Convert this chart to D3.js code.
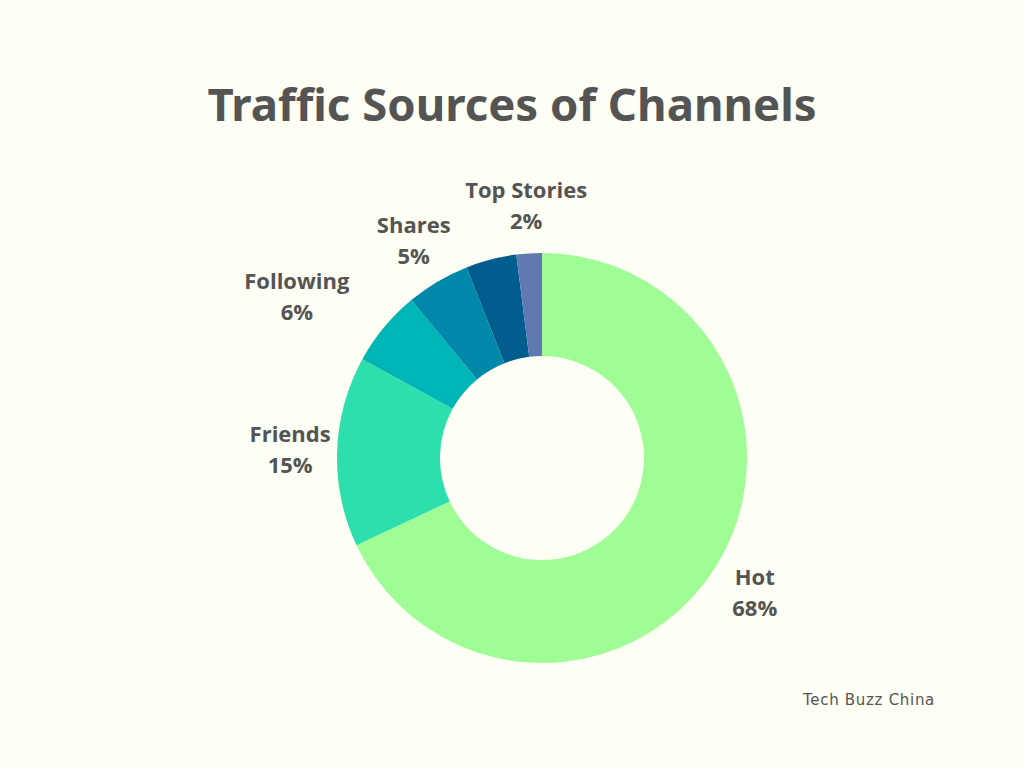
<!DOCTYPE html>
<html>
<head>
<meta charset="utf-8">
<script src="https://cdn.jsdelivr.net/npm/d3@7"></script>
<style>
  html, body { margin: 0; padding: 0; background: #fdfef4; }
  svg { display: block; }
</style>
</head>
<body>
<div id="chart"></div>
<script>
const categories = ["Hot", "Friends", "Following", "Shares", "Other", "Top Stories"];
const shares = [68, 15, 6, 5, 4, 2];
const labelled = [true, true, true, true, false, true];
const colors = ["#a0fd96", "#2ddfad", "#00b5b5", "#0088aa", "#005d8d", "#6179b0"];

const width = 1024;
const height = 768;
const cx = 542, cy = 458;
const outerR = 205, innerR = 102, labelR = 252;
// small hand nudges for labels that sit off the centroid line
const nudge = { "Following": -51 };

const svg = d3.select("#chart").append("svg")
    .attr("width", width)
    .attr("height", height);

svg.append("rect")
    .attr("width", width).attr("height", height)
    .attr("fill", "#fdfef4");

svg.append("text")
    .attr("x", 512).attr("y", 121)
    .attr("text-anchor", "middle")
    .attr("font-family", "'Noto Sans', Roboto, sans-serif")
    .attr("font-weight", 700)
    .attr("font-size", 45.5)
    .style("font-variant-ligatures", "none")
    .attr("fill", "#545454")
    .text("Traffic Sources of Channels");

const data = categories.map((name, i) => ({ name, value: shares[i], color: colors[i], label: labelled[i] }));

const pie = d3.pie().sort(null).value(d => d.value);
const arc = d3.arc().innerRadius(innerR).outerRadius(outerR);
const labelArc = d3.arc().innerRadius(labelR).outerRadius(labelR);

const g = svg.append("g").attr("transform", `translate(${cx},${cy})`);
const arcs = pie(data);

g.selectAll("path")
    .data(arcs)
    .join("path")
    .attr("d", arc)
    .attr("fill", d => d.data.color);

const labels = g.selectAll("g.label")
    .data(arcs.filter(d => d.data.label))
    .join("g")
    .attr("class", "label")
    .attr("transform", d => {
        const [x, y] = labelArc.centroid(d);
        return `translate(${x + (nudge[d.data.name] || 0)},${y})`;
    })
    .attr("text-anchor", "middle")
    .attr("font-family", "'Open Sans', sans-serif")
    .attr("font-weight", 700)
    .attr("font-size", 22)
    .attr("fill", "#545454");

labels.append("text").attr("y", -8).text(d => d.data.name);
labels.append("text").attr("y", 23).text(d => d.data.value + "%");

svg.append("text")
    .attr("x", 935).attr("y", 705)
    .attr("text-anchor", "end")
    .attr("font-family", "'DejaVu Sans', sans-serif")
    .attr("font-size", 15)
    .attr("letter-spacing", 0.7)
    .attr("fill", "#555")
    .text("Tech Buzz China");
</script>
</body>
</html>
